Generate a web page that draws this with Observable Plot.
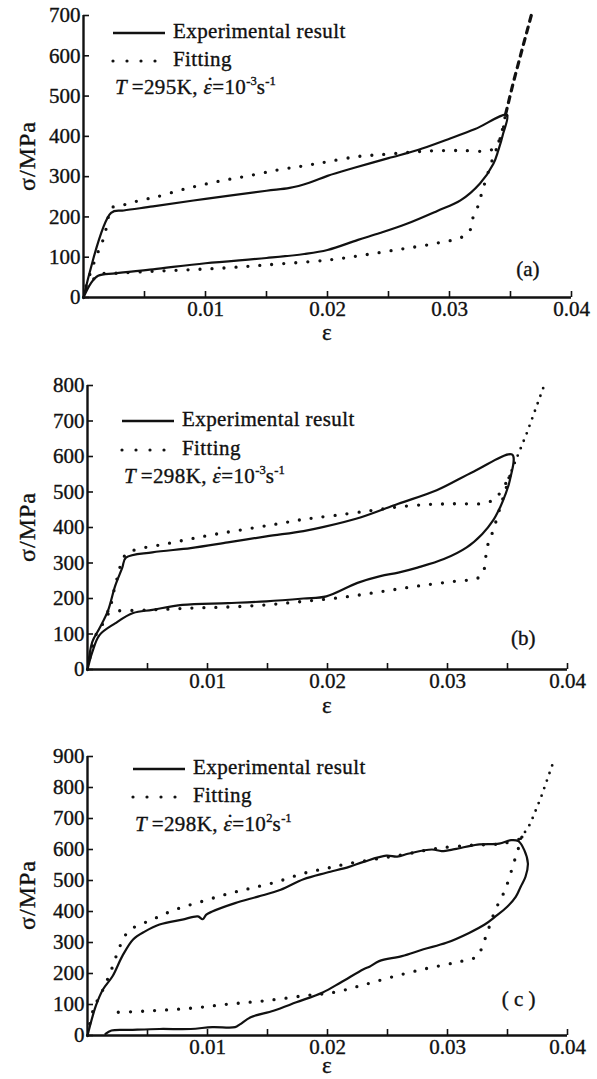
<!DOCTYPE html>
<html><head><meta charset="utf-8">
<script src="https://cdn.jsdelivr.net/npm/d3@7"></script>
<script src="https://cdn.jsdelivr.net/npm/@observablehq/plot@0.6"></script>
<style>
body{margin:0;background:#fff;}
#wrap{position:relative;width:597px;height:1079px;overflow:hidden;font-family:"Liberation Serif","Times New Roman","DejaVu Serif",serif;color:#111;}
#wrap svg.plot{position:absolute;left:0;}
#wrap svg.plot text{stroke:#111;stroke-width:0.35px;}
.lbl{position:absolute;white-space:nowrap;line-height:1;font-size:21px;letter-spacing:0.4px;-webkit-text-stroke:0.35px #111;}
.lbl sup{font-size:0.6em;vertical-align:0.75em;line-height:0;letter-spacing:0;}
.edot{position:relative;font-style:italic;}
.edot b{position:absolute;left:0.14em;top:0.02em;font-weight:normal;font-style:normal;line-height:1;}
.sample{position:absolute;}
</style></head><body><div id="wrap"></div>
<script>
// ---------- data ----------
const xTickLabels = [0.01, 0.02, 0.03, 0.04];
const xMinorTicks = [0.005, 0.01, 0.015, 0.02, 0.025, 0.03, 0.035, 0.04];
const yTicksA = [0, 100, 200, 300, 400, 500, 600, 700];
const yTicksB = [0, 100, 200, 300, 400, 500, 600, 700, 800];
const yTicksC = [0, 100, 200, 300, 400, 500, 600, 700, 800, 900];
const tags = ["(a)", "(b)", "( c )"];
const temperatures = ["295K", "298K", "298K"];
const rateExponents = ["-3", "-3", "2"];
const legendLabels = ["Experimental result", "Fitting"];

// panel (a)  [strain, stress MPa]
const expA = [[0,0],[0.00226,210],[0.0033,216],[0.0057,226],[0.01,245],[0.015,265],[0.0169,272],[0.0185,285],[0.02,302],[0.0222,322],[0.025,346],[0.0274,366],[0.0299,393],[0.0321,418],[0.0347,453],
  [0.0344,407],[0.034,365],[0.0336,332],[0.0325,283],[0.0309,241],[0.029,215],[0.0265,183],[0.0243,160],[0.0225,143],[0.02,118],[0.0181,108],[0.015,98],[0.01,85],[0.0057,70],[0.0026,60],[0.0012,54],[0.0006,35],[0,0]];
const fitLoadA = [[0,0],[0.0002,27],[0.0011,106],[0.0016,143],[0.0019,176],[0.0023,222],[0.0033,230],[0.0045,240],[0.006,250],[0.0085,271],[0.011,288],[0.0135,302],[0.016,317],[0.0181,327],[0.02,337],[0.0225,350],[0.0245,355],[0.0266,360],[0.0284,364],[0.0309,365],[0.0334,366],[0.034,385],[0.0346,455]];
const fitExtA = [[0.0346,455],[0.0352,530],[0.0359,610],[0.0367,700]];
const fitUnloadA = [[0.0347,452],[0.0341,390],[0.0334,332],[0.0327,265],[0.0323,224],[0.0319,196],[0.0316,162],[0.0307,146],[0.0293,137],[0.0279,129],[0.0262,121],[0.0231,106],[0.02,93],[0.015,81],[0.0119,74],[0.0088,69],[0.0057,65],[0.0026,60],[0.0012,56],[0.0003,23]];

// panel (b)
const expB = [[0,0],[0.0004,78],[0.001,116],[0.0017,165],[0.0023,235],[0.0029,287],[0.0032,315],[0.0054,330],[0.0086,342],[0.0117,358],[0.0149,375],[0.018,390],[0.0196,401],[0.0228,429],[0.0259,467],[0.0291,505],[0.0322,558],[0.0354,605],
  [0.0352,534],[0.0348,491],[0.0344,458],[0.0338,420],[0.0329,382],[0.0316,344],[0.0297,311],[0.0275,287],[0.0259,273],[0.0244,263],[0.0225,244],[0.0199,206],[0.018,200],[0.0149,192],[0.0117,187],[0.0079,182],[0.0054,168],[0.0038,159],[0.0023,130],[0.001,97],[0.0004,49],[0,0]];
const fitLoadB = [[0,0],[0.0007,97],[0.0013,130],[0.0018,163],[0.0023,235],[0.0032,325],[0.0042,339],[0.0064,353],[0.0086,368],[0.0108,382],[0.0133,396],[0.0158,410],[0.018,423],[0.0206,434],[0.0237,448],[0.0259,458],[0.0285,465],[0.0307,467],[0.0333,470],[0.0342,490],[0.0351,540]];
const fitExtB = [[0.0351,540],[0.0357,590],[0.0366,665],[0.038,795]];
const fitUnloadB = [[0.0352,545],[0.0344,458],[0.0338,391],[0.0333,344],[0.033,277],[0.0325,257],[0.0307,249],[0.0275,235],[0.0244,219],[0.0212,203],[0.018,192],[0.0149,182],[0.0117,176],[0.0086,173],[0.0054,168],[0.0023,165],[0.0013,163]];

// panel (c)
const expC = [[0,0],[0.0007,96],[0.0013,149],[0.0021,192],[0.0029,256],[0.0038,310],[0.0048,336],[0.006,358],[0.0079,374],[0.0092,384],[0.0096,375],[0.0099,390],[0.0104,400],[0.0123,427],[0.0142,448],[0.0161,470],[0.018,504],[0.0199,525],[0.0218,544],[0.023,560],[0.0249,580],[0.0258,577],[0.0268,587],[0.0287,600],[0.0295,595],[0.0306,601],[0.0325,616],[0.0343,619],[0.0353,630],[0.0359,627],
  [0.0364,598],[0.0367,555],[0.0365,512],[0.0361,480],[0.0357,448],[0.035,416],[0.034,384],[0.0331,358],[0.0318,331],[0.0299,299],[0.028,278],[0.0262,256],[0.0243,240],[0.0235,222],[0.023,214],[0.0211,171],[0.0196,139],[0.0174,107],[0.0155,80],[0.0136,59],[0.0127,36],[0.0123,27],[0.0104,27],[0.0086,21],[0.006,21],[0.0035,18],[0.002,16],[0.0015,5]];
const fitLoadC = [[0,0],[0.0005,85],[0.0013,149],[0.002,213],[0.0026,278],[0.0032,326],[0.0038,347],[0.0054,374],[0.0073,406],[0.0095,432],[0.0117,457],[0.0136,475],[0.0158,496],[0.018,523],[0.0199,539],[0.0218,555],[0.0243,571],[0.0268,587],[0.029,603],[0.0321,614],[0.0346,619],[0.0361,635]];
const fitExtC = [[0.0361,635],[0.0369,683],[0.0378,769],[0.0389,891]];
const fitUnloadC = [[0.0362,640],[0.0356,566],[0.0348,470],[0.034,406],[0.0334,342],[0.0329,288],[0.0325,256],[0.0306,235],[0.028,214],[0.0252,187],[0.0227,160],[0.0205,139],[0.018,128],[0.0148,112],[0.0117,101],[0.0086,88],[0.0054,80],[0.0023,75],[0.0016,77]];

// ---------- layout ----------
const panels = [
  {top:0,   height:340, mt:15, mb:43, ml:83, mr:26, yTicks:yTicksA, exp:expA, fit:[fitLoadA, fitUnloadA], ext:fitExtA, extDash:"6,6", extW:3.2,
   tag:tags[0], tagDx:-32, tagDy:-22, temp:temperatures[0], rate:rateExponents[0],
   leg:{x:113, y:[33,61,89], textX:173}, ylab:156, xlab:332},
  {top:340, height:375, mt:45, mb:46, ml:87, mr:30, yTicks:yTicksB, exp:expB, fit:[fitLoadB, fitUnloadB], ext:fitExtB, extDash:"0,8", extW:2.8,
   tag:tags[1], tagDx:-32, tagDy:-25, temp:temperatures[1], rate:rateExponents[1],
   leg:{x:122, y:[421,450,478], textX:182}, ylab:527, xlab:705},
  {top:715, height:364, mt:41, mb:44, ml:87, mr:30, yTicks:yTicksC, exp:expC, fit:[fitLoadC, fitUnloadC], ext:fitExtC, extDash:"0,8", extW:2.8,
   tag:tags[2], tagDx:-32, tagDy:-30, temp:temperatures[2], rate:rateExponents[2],
   leg:{x:133, y:[769,797,826], textX:193}, ylab:895, xlab:1065}
];

const wrap = document.getElementById("wrap");
const toRows = (pts, seg) => pts.map(([x, y]) => ({x, y, seg}));
const FONT = "'Liberation Serif', 'Times New Roman', 'DejaVu Serif', serif";

function addLabel(html, x, y, transform, extra) {
  const d = document.createElement("div");
  d.className = "lbl";
  d.innerHTML = html;
  d.style.left = x + "px";
  d.style.top = y + "px";
  d.style.transform = transform;
  if (extra) Object.assign(d.style, extra);
  wrap.appendChild(d);
}
function addSample(x, y, w, dotted) {
  const ns = "http://www.w3.org/2000/svg";
  const s = document.createElementNS(ns, "svg");
  s.setAttribute("class", "sample");
  s.setAttribute("width", w + 4);
  s.setAttribute("height", 8);
  s.style.left = (x - 2) + "px";
  s.style.top = (y - 4) + "px";
  const l = document.createElementNS(ns, "line");
  l.setAttribute("x1", 2); l.setAttribute("x2", w + 2);
  l.setAttribute("y1", 4); l.setAttribute("y2", 4);
  l.setAttribute("stroke", "#111");
  if (dotted) {
    l.setAttribute("stroke-width", 3.2);
    l.setAttribute("stroke-dasharray", "0,14");
    l.setAttribute("stroke-linecap", "round");
  } else {
    l.setAttribute("stroke-width", 2.4);
  }
  s.appendChild(l);
  wrap.appendChild(s);
}

panels.forEach((p) => {
  const ymax = p.yTicks[p.yTicks.length - 1];
  const expRows = toRows(p.exp, "exp");
  const fitRows = [...toRows(p.fit[0], "load"), ...toRows(p.fit[1], "unload")];
  const extRows = toRows(p.ext, "ext");
  const chart = Plot.plot({
    width: 597, height: p.height,
    marginTop: p.mt, marginBottom: p.mb, marginLeft: p.ml, marginRight: p.mr,
    x: {domain: [0, 0.04], label: null},
    y: {domain: [0, ymax], label: null},
    style: {fontFamily: FONT, fontSize: "21px", color: "#111", background: "transparent", overflow: "visible"},
    marks: [
      Plot.ruleY([0], {x1: 0, x2: 0.04, stroke: "#111", strokeWidth: 2.4}),
      Plot.ruleX([0], {y1: 0, y2: ymax, stroke: "#111", strokeWidth: 2.4}),
      Plot.ruleX(xMinorTicks, {x: d => d, y1: 0, y2: 0, insetTop: -6, stroke: "#111", strokeWidth: 1.6}),
      Plot.ruleY(p.yTicks, {y: d => d, x1: 0, x2: 0, insetRight: -6, stroke: "#111", strokeWidth: 1.6}),
      Plot.axisX(xTickLabels, {anchor: "bottom", tickSize: 0, tickPadding: 4, tickFormat: d => String(d), label: null, fontSize: 21}),
      Plot.axisY(p.yTicks, {anchor: "left", tickSize: 0, tickPadding: 3, tickFormat: d => String(d), label: null, fontSize: 21}),
      Plot.line(expRows, {x: "x", y: "y", z: "seg", curve: "catmull-rom", stroke: "#111", strokeWidth: 2.2}),
      Plot.line(fitRows, {x: "x", y: "y", z: "seg", curve: "catmull-rom", stroke: "#111", strokeWidth: 3.3, strokeDasharray: "0,12", strokeLinecap: "round"}),
      Plot.line(extRows, {x: "x", y: "y", curve: "linear", stroke: "#111", strokeWidth: p.extW, strokeDasharray: p.extDash, strokeLinecap: "round"}),
      Plot.text([p.tag], {text: d => d, frameAnchor: "bottom-right", dx: p.tagDx, dy: p.tagDy, fontSize: 21})
    ]
  });
  chart.classList.add("plot");
  chart.style.top = p.top + "px";
  wrap.appendChild(chart);

  // axis titles
  addLabel("σ/MPa", 27, p.ylab, "translate(-50%,-50%) rotate(-90deg)", {fontSize: "24px", letterSpacing: "1px"});
  addLabel("ε", (p.ml + 597 - p.mr) / 2, p.xlab, "translate(-50%,-50%)", {fontSize: "23px"});

  // legend
  addSample(p.leg.x, p.leg.y[0], 52, false);
  addLabel(legendLabels[0], p.leg.textX, p.leg.y[0], "translate(0,-55%)");
  addSample(p.leg.x, p.leg.y[1], 56, true);
  addLabel(legendLabels[1], p.leg.textX, p.leg.y[1], "translate(0,-55%)");
  const cond = `<i>T</i>&thinsp;=${p.temp}, <span class="edot">ε<b>˙</b></span>=10<sup>${p.rate}</sup>s<sup>-1</sup>`;
  addLabel(cond, p.leg.x + 2, p.leg.y[2], "translate(0,-55%)");
});
</script>
</body></html>
